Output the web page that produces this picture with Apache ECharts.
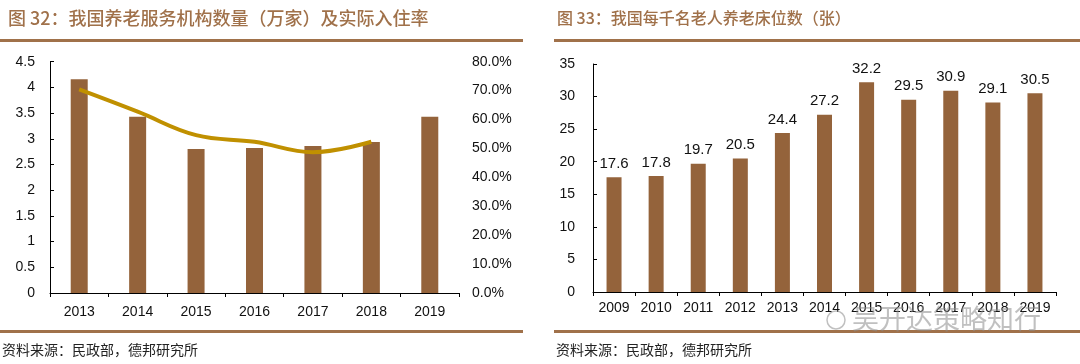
<!DOCTYPE html>
<html>
<head>
<meta charset="utf-8">
<script src="https://cdn.jsdelivr.net/npm/echarts@6/dist/echarts.min.js"></script>
<style>
html,body{margin:0;padding:0;background:#fff;}
#c{width:1080px;height:364px;}
</style>
</head>
<body>
<div id="c"></div>
<script>
// Left chart: 养老服务机构数量（万家）及实际入住率
const leftCategories = ['2013','2014','2015','2016','2017','2018','2019'];
const leftInstitutions = [4.16, 3.43, 2.80, 2.82, 2.86, 2.94, 3.43];
const leftOccupancy = [0.704, 0.627, 0.546, 0.523, 0.487, 0.523];
const leftYTicks = [0, 0.5, 1, 1.5, 2, 2.5, 3, 3.5, 4, 4.5];
const leftPctTicks = [0, 0.1, 0.2, 0.3, 0.4, 0.5, 0.6, 0.7, 0.8];

// Right chart: 每千名老人养老床位数（张）
const rightCategories = ['2009','2010','2011','2012','2013','2014','2015','2016','2017','2018','2019'];
const rightBeds = [17.6, 17.8, 19.7, 20.5, 24.4, 27.2, 32.2, 29.5, 30.9, 29.1, 30.5];
const rightYTicks = [0, 5, 10, 15, 20, 25, 30, 35];

const titles = ['图 32：我国养老服务机构数量（万家）及实际入住率', '图 33：我国每千名老人养老床位数（张）'];
const sourceText = '资料来源：民政部，德邦研究所';

const BAR = '#94633b';
const LINE = '#c09000';
const BROWN = '#a0714a';
const numFont = '"Liberation Sans", Arial, sans-serif';
const cjkFont = '"Noto Sans CJK SC", sans-serif';

const chart = echarts.init(document.getElementById('c'), null, {renderer: 'canvas'});

const axisLineStyle = {lineStyle: {color: '#000', width: 1}};
const labelStyle = {color: '#111', fontSize: 14, fontFamily: numFont};

chart.setOption({
  animation: false,
  backgroundColor: '#fff',
  grid: [
    {left: 50, top: 61.7, width: 409, height: 231.3, containLabel: false},
    {left: 593, top: 64, width: 463, height: 228, containLabel: false}
  ],
  xAxis: [
    {
      type: 'category', gridIndex: 0, data: leftCategories,
      axisLine: axisLineStyle,
      axisTick: {show: true, alignWithLabel: false, length: 4, lineStyle: {color: '#000'}},
      axisLabel: Object.assign({margin: 12}, labelStyle)
    },
    {
      type: 'category', gridIndex: 1, data: rightCategories,
      axisLine: axisLineStyle,
      axisTick: {show: true, alignWithLabel: false, length: 4, lineStyle: {color: '#000'}},
      axisLabel: Object.assign({margin: 9}, labelStyle)
    }
  ],
  yAxis: [
    {
      type: 'value', gridIndex: 0,
      min: leftYTicks[0], max: leftYTicks[leftYTicks.length - 1], interval: 0.5,
      axisLine: {show: true, lineStyle: {color: '#000'}},
      axisTick: {show: true, inside: true, length: 4, lineStyle: {color: '#000'}},
      splitLine: {show: false},
      axisLabel: Object.assign({margin: 15, formatter: v => String(v)}, labelStyle)
    },
    {
      type: 'value', gridIndex: 0, position: 'right',
      min: leftPctTicks[0], max: leftPctTicks[leftPctTicks.length - 1], interval: 0.1,
      axisLine: {show: false},
      axisTick: {show: false},
      splitLine: {show: false},
      axisLabel: Object.assign({margin: 13, formatter: v => (v * 100).toFixed(1) + '%'}, labelStyle)
    },
    {
      type: 'value', gridIndex: 1,
      min: rightYTicks[0], max: rightYTicks[rightYTicks.length - 1], interval: 5,
      axisLine: {show: true, lineStyle: {color: '#000'}},
      axisTick: {show: true, inside: true, length: 4, lineStyle: {color: '#000'}},
      splitLine: {show: false},
      axisLabel: Object.assign({margin: 18}, labelStyle)
    }
  ],
  series: [
    {
      type: 'bar', xAxisIndex: 0, yAxisIndex: 0, data: leftInstitutions,
      barWidth: 17, itemStyle: {color: BAR}
    },
    {
      type: 'line', xAxisIndex: 0, yAxisIndex: 1, data: leftOccupancy,
      smooth: 0.4, showSymbol: false, symbol: 'none',
      lineStyle: {color: LINE, width: 4}, z: 5
    },
    {
      type: 'bar', xAxisIndex: 1, yAxisIndex: 2, data: rightBeds,
      barWidth: 15, itemStyle: {color: BAR},
      label: {show: true, position: 'top', distance: 6, color: '#111', fontSize: 15, fontFamily: numFont,
        formatter: p => p.value.toFixed(1)}
    }
  ],
  graphic: [
    {type: 'text', left: 8, top: 9, style: {text: titles[0], fill: BROWN, font: '500 18px ' + cjkFont}},
    {type: 'text', left: 557, top: 10, style: {text: titles[1], fill: BROWN, font: '500 16px ' + cjkFont}},
    {type: 'rect', shape: {x: 0, y: 39, width: 523, height: 3}, style: {fill: BROWN}},
    {type: 'rect', shape: {x: 554, y: 39, width: 526, height: 3}, style: {fill: BROWN}},
    {type: 'rect', shape: {x: 0, y: 330, width: 523, height: 3}, style: {fill: BROWN}},
    {type: 'rect', shape: {x: 554, y: 330, width: 526, height: 3}, style: {fill: BROWN}},
    {type: 'text', left: 2, top: 343, style: {text: sourceText, fill: '#222', font: '14px ' + cjkFont}},
    {type: 'text', left: 556, top: 343, style: {text: sourceText, fill: '#222', font: '14px ' + cjkFont}},
    {type: 'circle', shape: {cx: 836, cy: 320, r: 9}, style: {fill: 'none', stroke: 'rgba(140,140,140,0.55)', lineWidth: 1.5}, z: 100},
    {type: 'text', left: 852, top: 305, z: 100, style: {text: '吴开达策略知行', fill: 'rgba(140,140,140,0.55)', font: '27px ' + cjkFont}}
  ]
});
</script>
</body>
</html>
